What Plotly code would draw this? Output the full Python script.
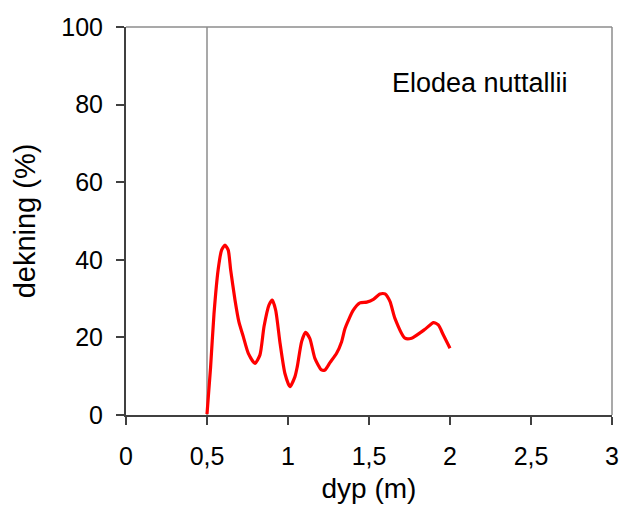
import plotly.graph_objects as go

depth = [0.50, 0.522, 0.543, 0.569, 0.59, 0.611, 0.631, 0.646, 0.673, 0.697, 0.724, 0.755, 0.796,
         0.827, 0.852, 0.883, 0.903, 0.924, 0.951, 0.981, 1.012, 1.043, 1.057, 1.084, 1.108,
         1.135, 1.166, 1.207, 1.228, 1.259, 1.30, 1.331, 1.352, 1.403, 1.444, 1.486, 1.527,
         1.568, 1.599, 1.630, 1.660, 1.722, 1.763, 1.846, 1.898, 1.928, 1.959, 2.0]
cover = [0.2, 12.2, 26.0, 37.5, 42.5, 43.8, 42.5, 37.4, 29.6, 24.0, 20.2, 15.9, 13.3,
         15.5, 22.8, 28.4, 29.6, 27.0, 18.5, 10.7, 7.3, 9.9, 12.4, 18.9, 21.3,
         19.7, 14.6, 11.6, 11.6, 13.5, 15.9, 18.9, 22.3, 27.0, 28.9, 29.1, 29.8,
         31.2, 31.2, 29.2, 24.9, 19.8, 19.8, 22.1, 23.8, 23.2, 20.6, 17.2]

x_ticks = [0, 0.5, 1, 1.5, 2, 2.5, 3]
x_labels = ["0", "0,5", "1", "1,5", "2", "2,5", "3"]
y_ticks = [0, 20, 40, 60, 80, 100]

font = "Liberation Sans, Arial, sans-serif"

fig = go.Figure()
fig.add_trace(go.Scatter(x=depth, y=cover, mode="lines",
                         line=dict(color="#ff0000", width=3.2, shape="spline", smoothing=0.6),
                         showlegend=False))

fig.update_layout(
    width=626, height=506,
    margin=dict(l=126, r=14, t=27, b=91),
    plot_bgcolor="white", paper_bgcolor="white",
    font=dict(family=font, size=25, color="black"),
    xaxis=dict(range=[0, 3], tickvals=x_ticks, ticktext=x_labels, showgrid=False, zeroline=False,
               automargin=False,
               showline=True, linecolor="#404040", linewidth=2, ticks="outside", ticklen=8,
               tickcolor="#404040", tickwidth=1.5, ticklabelstandoff=10,
               title=dict(text="dyp (m)", font=dict(size=28), standoff=9)),
    yaxis=dict(range=[0, 100], tickvals=y_ticks, showgrid=False, zeroline=False,
               automargin=False,
               showline=True, linecolor="#404040", linewidth=2, ticks="outside", ticklen=8,
               tickcolor="#404040", tickwidth=1.5, ticklabelstandoff=8,
               title=dict(text="dekning (%)", font=dict(size=29), standoff=17)),
    shapes=[
        dict(type="line", xref="x", yref="paper", x0=0.5, x1=0.5, y0=0, y1=1,
             line=dict(color="#8c8c8c", width=1.5), layer="below"),
        dict(type="line", xref="paper", yref="paper", x0=0, x1=1, y0=1, y1=1,
             line=dict(color="#8c8c8c", width=1.5)),
        dict(type="line", xref="paper", yref="paper", x0=1, x1=1, y0=0, y1=1,
             line=dict(color="#8c8c8c", width=1.5)),
    ],
    annotations=[dict(text="Elodea nuttallii", x=2.185, y=85.5, xref="x", yref="y",
                      showarrow=False, font=dict(size=27, family=font))],
)

fig.write_html("out.html", config={"displayModeBar": False},
               post_script="document.body.style.margin='0';document.body.style.overflow='hidden';")
